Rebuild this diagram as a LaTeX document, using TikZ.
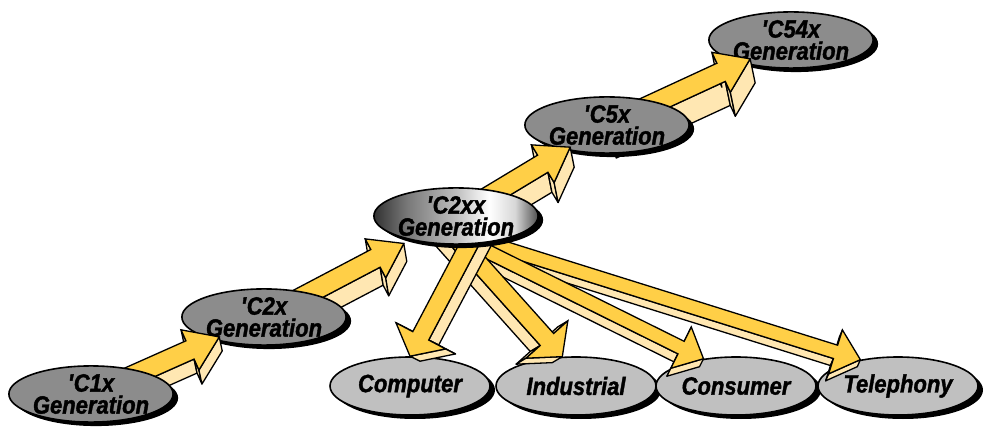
\documentclass[tikz,border=0pt]{standalone}
\usepackage{fontspec}
\newfontfamily\lblfont[FakeStretch=0.88,FakeBold=1.5]{Liberation Sans}
\usetikzlibrary{calc,shapes.geometric,shadows}

\definecolor{arrowtop}{RGB}{255,207,71}
\definecolor{arrowside}{RGB}{255,231,178}
\definecolor{genfill}{RGB}{140,140,140}
\definecolor{mktfill}{RGB}{192,192,192}
\definecolor{chromeA}{RGB}{50,50,50}
\definecolor{chromeB}{RGB}{120,120,120}
\definecolor{chromeE}{RGB}{190,190,190}
\definecolor{chromeC}{RGB}{215,215,215}
\definecolor{chromeD}{RGB}{80,80,80}

% metal look of the 'C2xx generation
\pgfdeclarehorizontalshading{chrome}{100bp}{color(0bp)=(chromeA); color(25bp)=(chromeA);
  color(35bp)=(chromeB); color(50bp)=(chromeE); color(60bp)=(white);
  color(68bp)=(chromeC); color(75bp)=(chromeD); color(100bp)=(chromeD)}

\tikzset{
  gen/.style={ellipse, draw=black, line width=1.6pt, fill=genfill,
    minimum width=164pt, minimum height=56pt, inner sep=0pt, align=center,
    font=\lblfont\bfseries\itshape\fontsize{25}{22}\selectfont,
    drop shadow={shadow xshift=5pt, shadow yshift=-4pt, fill=black, opacity=1}},
  market/.style={gen, fill=mktfill, minimum width=160pt, minimum height=58pt},
  topface/.style={fill=arrowtop, draw=black, line width=1.3pt},
  sideface/.style={fill=arrowside, draw=black, line width=1.3pt, line join=round}
}

% 3-D block arrow: start, tip, shaft half width, head half width,
% head length, side whose face shows (90/-90), depth vector
\newcommand\blockarrow[7]{%
  \pgfmathsetmacro\backside{-(#6)}%
  \coordinate (abase) at ($(#2)!#5pt!(#1)$);
  \coordinate (asf) at ($(#1)!#3pt!#6:(#2)$);
  \coordinate (asb) at ($(#1)!#3pt!\backside:(#2)$);
  \coordinate (anf) at ($(abase)!#3pt!#6:(#2)$);
  \coordinate (anb) at ($(abase)!#3pt!\backside:(#2)$);
  \coordinate (ahf) at ($(abase)!#4pt!#6:(#2)$);
  \coordinate (ahb) at ($(abase)!#4pt!\backside:(#2)$);
  % side faces
  \filldraw[sideface] (asf) -- (anf) -- ($(anf)+(#7)$) -- ($(asf)+(#7)$) -- cycle;
  \filldraw[sideface] (anf) -- (ahf) -- ($(ahf)+(#7)$) -- ($(anf)+(#7)$) -- cycle;
  \filldraw[sideface] (ahf) -- (#2) -- ($(#2)+(#7)$) -- ($(ahf)+(#7)$) -- cycle;
  \filldraw[sideface] (anb) -- (ahb) -- ($(ahb)+(#7)$) -- ($(anb)+(#7)$) -- cycle;
  % top face
  \filldraw[topface] (asb) -- (anb) -- (ahb) -- (#2) -- (ahf) -- (anf) -- (asf) -- cycle;
}

\begin{document}
\begin{tikzpicture}[x=1pt,y=-1pt]
\useasboundingbox (0,0) rectangle (992,427);

% centres of the generations
\coordinate (c1x) at (91,394);
\coordinate (c2x) at (264,317);
\coordinate (c2xx) at (456,216);
\coordinate (c5x) at (607,125);
\coordinate (c54x) at (791,40);

% markets
\node[market] (comp) at (410,386) {Computer};
\node[market] (ind) at (576,386) {Industrial};
\node[market] (cons) at (736,386) {Consumer};
\node[market] (tel) at (898,386) {Telephony};

% 'C54x and the arrow into it
\node[gen] (g54x) at (c54x) {\textquotesingle C54x\\Generation};
\coordinate (t4) at ($(g54x.center)!45pt!(c5x)$);
\blockarrow{c5x}{t4}{10}{22}{32}{-90}{5,24}

% 'C5x
\node[gen] (g5x) at (c5x) {\textquotesingle C5x\\Generation};
\coordinate (t3) at ($(g5x.center)!43pt!(c2xx)$);
\blockarrow{c2xx}{t3}{10}{22}{32}{-90}{4,20}

% fan out to the markets
\coordinate (f1) at ($(c2xx)+(28,0)$);
\coordinate (f2) at ($(c2xx)+(-16,4)$);
\coordinate (f3) at ($(c2xx)+(-16,12)$);
\blockarrow{f3}{tel.145}{7}{23}{26}{-90}{-3,7}
\blockarrow{f3}{cons.140}{7}{23}{25}{-90}{-4,8}
\blockarrow{f2}{ind.115}{9}{28}{23}{-90}{-10,6}
\blockarrow{f1}{comp.north}{9}{28}{23}{90}{10,5}

% 'C2xx
\node[gen, shading=chrome] (g2xx) at (c2xx) {\textquotesingle C2xx\\Generation};
\coordinate (t2) at ($(g2xx.center)!59pt!(c2x)$);
\blockarrow{c2x}{t2}{10}{22}{32}{-90}{3,18}

% 'C2x
\node[gen] (g2x) at (c2x) {\textquotesingle C2x\\Generation};
\coordinate (t1) at ($(g2x.center)!49pt!(c1x)$);
\blockarrow{c1x}{t1}{10}{22}{32}{-90}{3,14}

% 'C1x
\node[gen] (g1x) at (c1x) {\textquotesingle C1x\\Generation};

\end{tikzpicture}
\end{document}
